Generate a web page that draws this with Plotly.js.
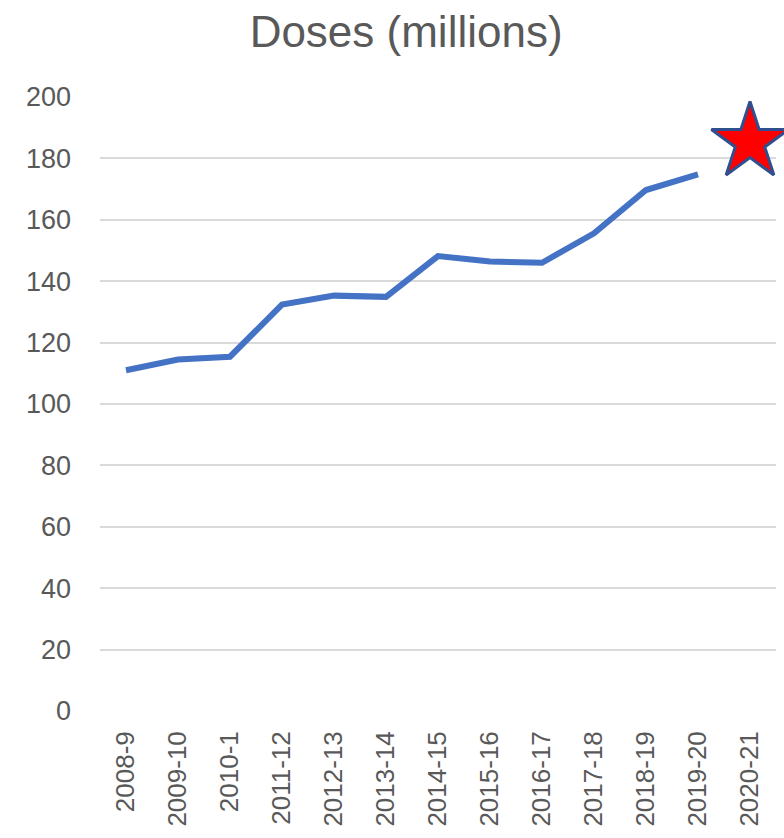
<!DOCTYPE html>
<html>
<head>
<meta charset="utf-8">
<script src="https://cdn.plot.ly/plotly-3.0.1.min.js"></script>
<style>html,body{margin:0;padding:0;background:#fff;}#chart{width:784px;height:838px;}</style>
</head>
<body>
<div id="chart"></div>
<script>
const seasons = ["2008-9","2009-10","2010-1","2011-12","2012-13","2013-14","2014-15","2015-16","2016-17","2017-18","2018-19","2019-20","2020-21"];
const doses = [111.0,114.5,115.4,132.4,135.3,134.9,148.2,146.4,146.0,155.6,169.7,174.8,null];
const targetSeason = ["2020-21"];
const targetDoses = [185.3];
const yTicks = [0,20,40,60,80,100,120,140,160,180,200];

const font = "Liberation Sans, Arial, sans-serif";
const traces = [
  {
    x: seasons, y: doses, type: "scatter", mode: "lines",
    line: {color: "#4472C4", width: 6},
    hoverinfo: "x+y", showlegend: false
  },
  {
    x: targetSeason, y: targetDoses, type: "scatter", mode: "markers",
    marker: {symbol: "star", size: 58, color: "#FF0000", line: {color: "#2F4F8F", width: 3}},
    cliponaxis: false, showlegend: false
  }
];
const layout = {
  width: 784, height: 838,
  margin: {l: 100, r: 8, t: 97, b: 127},
  paper_bgcolor: "#ffffff", plot_bgcolor: "#ffffff",
  title: {text: "Doses (millions)", font: {family: font, size: 44, color: "#595959"}, x: 0.518, xanchor: "center", y: 0.962, yanchor: "middle"},
  xaxis: {
    type: "category", categoryorder: "array", categoryarray: seasons,
    range: [-0.5, 12.5], tickangle: -90, showgrid: false, zeroline: false,
    showline: false, ticks: "", ticklabelstandoff: 14,
    tickfont: {family: font, size: 26, color: "#595959"}
  },
  yaxis: {
    range: [0, 200], tickvals: yTicks, ticktext: yTicks.map(String),
    showgrid: true, gridcolor: "#D9D9D9", gridwidth: 2, zeroline: false,
    showline: false, ticks: "", ticklabelstandoff: 28,
    tickfont: {family: font, size: 27, color: "#595959"}
  }
};
Plotly.newPlot("chart", traces, layout, {displayModeBar: false, staticPlot: true});
</script>
</body>
</html>
